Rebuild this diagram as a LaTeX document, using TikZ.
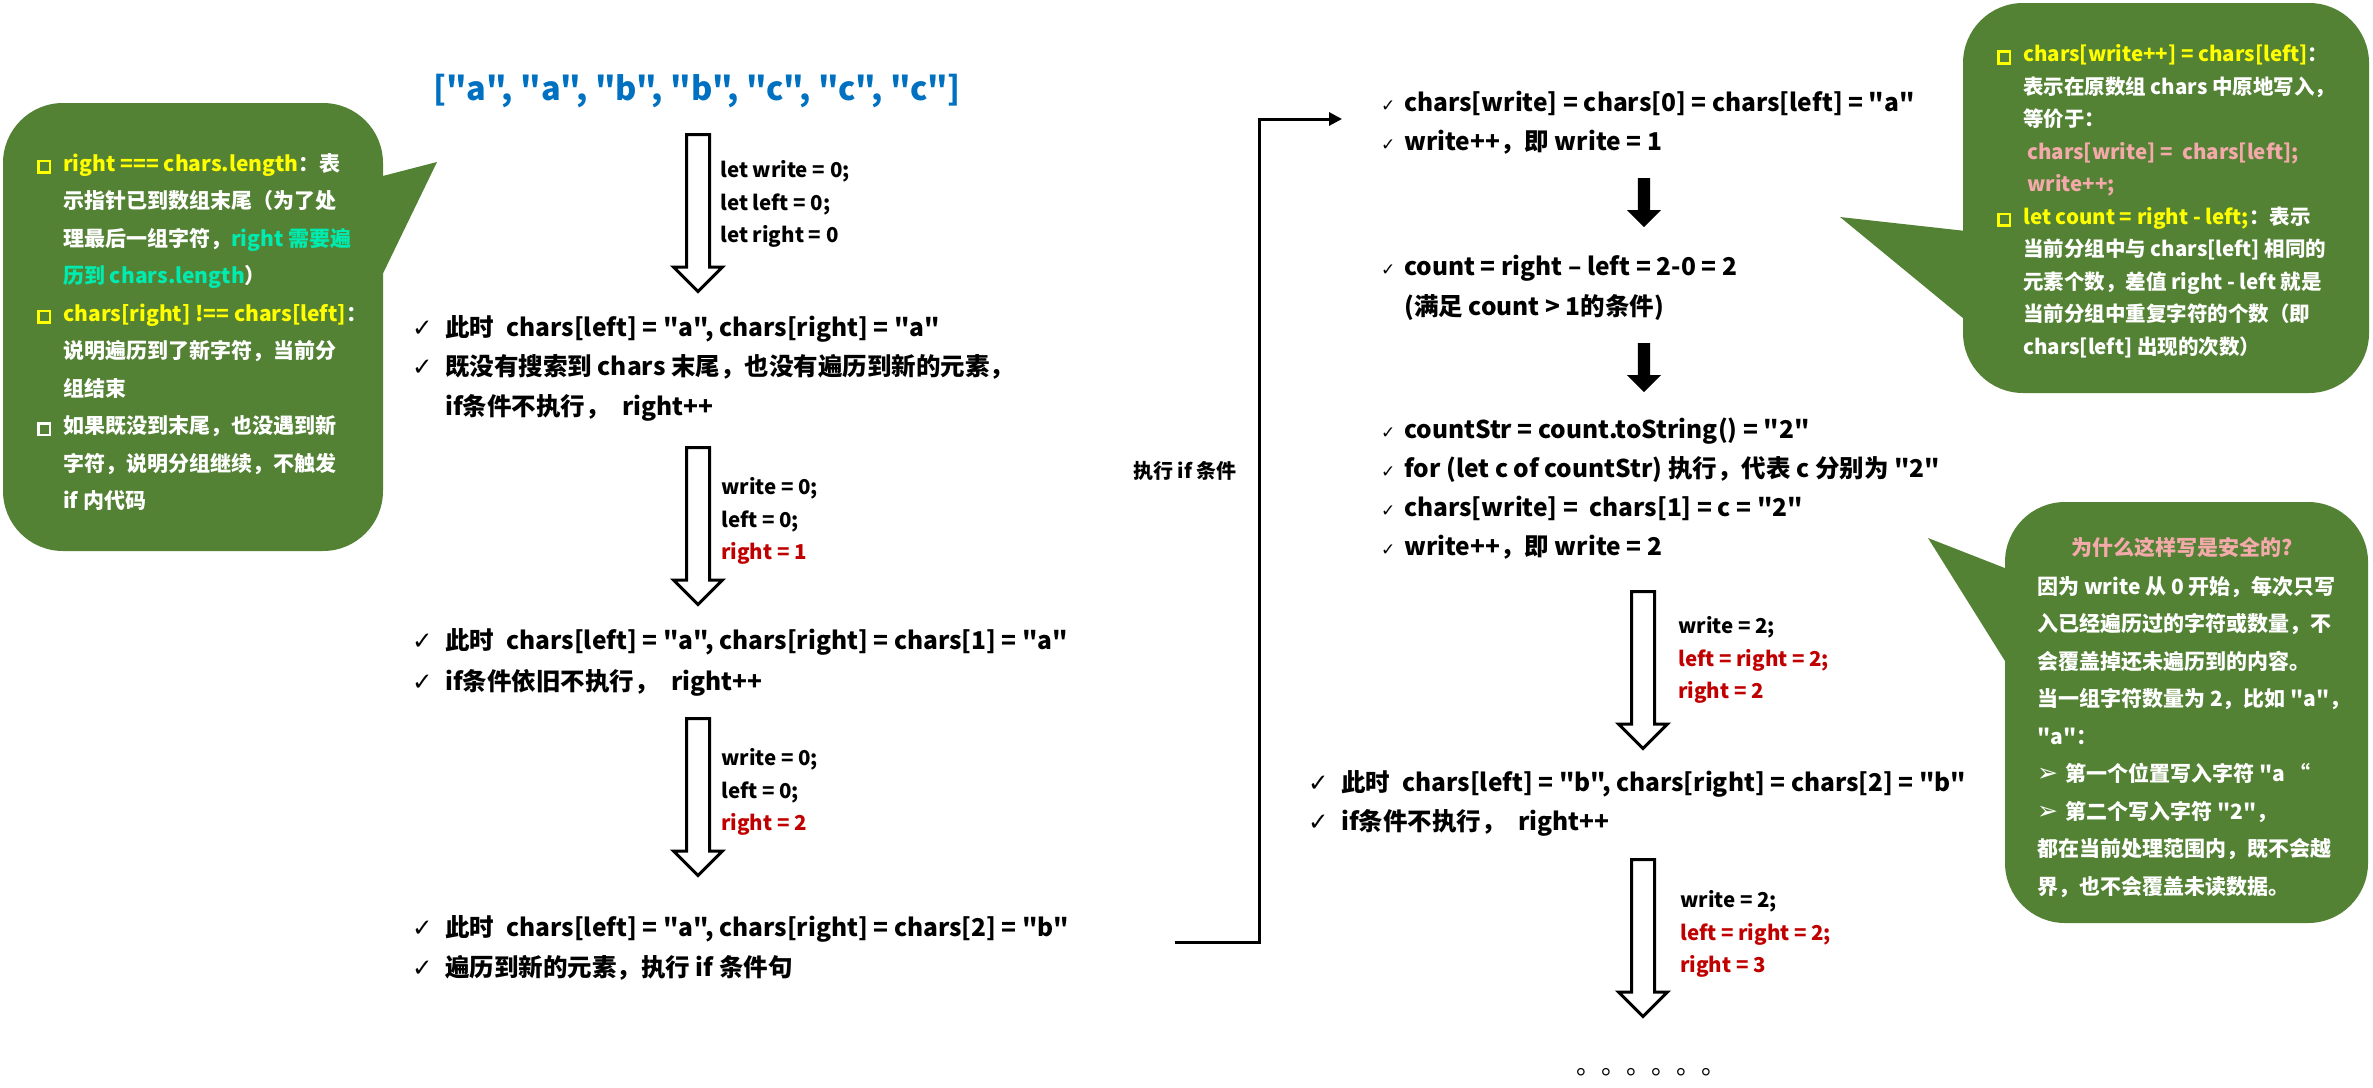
\documentclass[tikz,border=0pt]{standalone}
\usepackage{fontspec}
\setmainfont{Noto Sans CJK SC}[Ligatures=TeXOff]
\newfontfamily\symfont{DejaVu Sans}
\usepackage{xcolor}
\usetikzlibrary{positioning, arrows.meta, shapes.arrows, calc}
\definecolor{notegreen} {RGB}{84, 130, 53}
\definecolor{codeblue}  {RGB}{0, 112, 192}
\definecolor{varred}    {RGB}{192, 0, 0}
\definecolor{notepink}  {RGB}{244, 170, 170}
\definecolor{noteteal}  {RGB}{0, 235, 175}
\definecolor{noteyellow}{RGB}{255, 255, 0}
% check marks and square bullets
\newcommand{\ck}{\makebox[33pt][l]{{\symfont\mdseries ✓}}}
\newcommand{\ckr}{\makebox[23pt][l]{{\symfont\mdseries\fontsize{17}{17}\selectfont ✓}}}
\newcommand{\sqbul}[1]{\makebox[26pt][l]{\textcolor{#1}{\setlength{\fboxsep}{0pt}\setlength{\fboxrule}{2.6pt}\fbox{\rule{0pt}{9pt}\hspace{9pt}}}}}
\newcommand{\arbul}{\makebox[28pt][l]{{\symfont\fontsize{25}{25}\selectfont ➢}}}
\tikzset{
  % step text
  steptxt/.style={anchor=west, align=left, inner sep=0pt,
    font=\fontsize{24.5}{39.5}\selectfont\bfseries},
  % variables beside the hollow arrows
  varlbl/.style={anchor=west, align=left, inner sep=0pt,
    font=\fontsize{20.5}{32.5}\selectfont\bfseries},
  % hollow block arrow
  hollowarrow/.style={single arrow, draw=black, fill=white, line width=3pt,
    rotate=-90, anchor=tail, inner xsep=0pt, inner ysep=10pt,
    minimum height=157pt, minimum width=46pt,
    single arrow head extend=13pt, single arrow head indent=0pt},
  % small filled arrow
  fillarrow/.style={single arrow, fill=black, draw=none,
    rotate=-90, anchor=tail, inner xsep=0pt, inner ysep=6pt,
    minimum height=49pt, minimum width=34pt,
    single arrow head extend=11pt, single arrow head indent=0pt},
  % note bubble
  bubble/.style={fill=notegreen, draw=none, rounded corners=60pt},
  notetxt/.style={anchor=west, align=left, inner sep=0pt, text=white,
    font=\fontsize{21}{37.5}\selectfont\bfseries},
  % connector
  conn/.style={line width=3pt, -{Triangle[length=13pt, width=13pt]}},
}

\begin{document}
\begin{tikzpicture}[x=1pt, y=-1pt]
  \useasboundingbox (0,0) rectangle (2373,1087);

  % notes
  \node[bubble, minimum width=380pt, minimum height=448pt] (lnote) at (193,327) {};
  \fill[notegreen] (375,178) -- (437,162) -- (375,290) -- cycle;
  \node[bubble, minimum width=406pt, minimum height=390pt] (rnote) at (2166,198) {};
  \fill[notegreen] (1975,232) -- (1840,217) -- (1975,328) -- cycle;
  \node[bubble, minimum width=363pt, minimum height=421pt] (snote) at (2186.5,712.5) {};
  \fill[notegreen] (2015,572) -- (1928,538) -- (2015,677) -- cycle;

  \node[notetxt] (ltxt) at (37,332) {%
    \sqbul{noteyellow}\textcolor{noteyellow}{right === chars.length}：表\\
    \hspace*{26pt}示指针已到数组末尾（为了处\\
    \hspace*{26pt}理最后一组字符，\textcolor{noteteal}{right 需要遍}\\
    \hspace*{26pt}\textcolor{noteteal}{历到 chars.length}）\\
    \sqbul{noteyellow}\textcolor{noteyellow}{chars[right] !== chars[left]}：\\
    \hspace*{26pt}说明遍历到了新字符，当前分\\
    \hspace*{26pt}组结束\\
    \sqbul{white}如果既没到末尾，也没遇到新\\
    \hspace*{26pt}字符，说明分组继续，不触发\\
    \hspace*{26pt}if 内代码};
  \node[notetxt, font=\fontsize{20.5}{32.5}\selectfont\bfseries] (rtxt) at (1997,201.5) {%
    \sqbul{noteyellow}\textcolor{noteyellow}{chars[write++] = chars[left]}：\\
    \hspace*{26pt}表示在原数组 chars 中原地写入，\\
    \hspace*{26pt}等价于：\\
    \hspace*{30pt}\textcolor{notepink}{chars[write] = \ chars[left];}\\
    \hspace*{30pt}\textcolor{notepink}{write++;}\\
    \sqbul{noteyellow}\textcolor{noteyellow}{let count = right - left;}：表示\\
    \hspace*{26pt}当前分组中与 chars[left] 相同的\\
    \hspace*{26pt}元素个数，差值 right - left 就是\\
    \hspace*{26pt}当前分组中重复字符的个数（即\\
    \hspace*{26pt}chars[left] 出现的次数）};
  \node[notetxt, anchor=center, text=notepink] (stitle) at (2182,548) {为什么这样写是安全的?};
  \node[notetxt] (stxt) at (2037,737) {%
    因为 write 从 0 开始，每次只写\\
    入已经遍历过的字符或数量，不\\
    会覆盖掉还未遍历到的内容。\\
    当一组字符数量为 2，比如 "a"，\\
    "a"：\\
    \arbul 第一个位置写入字符 "a “\\
    \arbul 第二个写入字符 "2"，\\
    都在当前处理范围内，既不会越\\
    界，也不会覆盖未读数据。};

  % left column
  \node[font=\fontsize{32.5}{32.5}\selectfont\bfseries, text=codeblue] (arr) at (697,91)
    {["a", "a", "b", "b", "c", "c", "c"]};
  \node[hollowarrow] (a1) at (698,133) {};
  \node[varlbl] (l1) at (720,204) {let write = 0;\\let left = 0;\\let right = 0};
  \node[steptxt] (t1) at (412,368) {%
    \ck 此时\enspace chars[left] = "a", chars[right] = "a"\\
    \ck 既没有搜索到 chars 末尾，也没有遍历到新的元素，\\
    \hspace*{33pt}if条件不执行，\enspace right++};
  \node[hollowarrow] (a2) at (698,446) {};
  \node[varlbl] (l2) at (721,521) {write = 0;\\left = 0;\\\textcolor{varred}{right = 1}};
  \node[steptxt, font=\fontsize{24.5}{41}\selectfont\bfseries] (t2) at (412,662) {%
    \ck 此时\enspace chars[left] = "a", chars[right] = chars[1] = "a"\\
    \ck if条件依旧不执行，\enspace right++};
  \node[hollowarrow] (a3) at (698,717) {};
  \node[varlbl] (l3) at (721,792) {write = 0;\\left = 0;\\\textcolor{varred}{right = 2}};
  \node[steptxt] (t3) at (412,948) {%
    \ck 此时\enspace chars[left] = "a", chars[right] = chars[2] = "b"\\
    \ck 遍历到新的元素，执行 if 条件句};

  % jump to the if branch
  \coordinate (c0) at (1175,942);
  \coordinate (c1) at (1259,119);
  \coordinate (c2) at (1342,119);
  \draw[conn] (c0) -| (c1) -- (c2);
  \node[font=\fontsize{20}{20}\selectfont\bfseries] (lif) at (1185,471) {执行 if 条件};

  % right column
  \node[steptxt] (r1) at (1381,122.5) {%
    \ckr chars[write] = chars[0] = chars[left] = "a"\\
    \ckr write++，即 write = 1};
  \node[fillarrow] (b1) at (1644,178) {};
  \node[steptxt] (r2) at (1381,288) {%
    \ckr count = right – left = 2-0 = 2\\
    \hspace*{23pt}(满足 count > 1的条件)};
  \node[fillarrow] (b2) at (1644,343) {};
  \node[steptxt, font=\fontsize{24.5}{39}\selectfont\bfseries] (r3) at (1381,488.5) {%
    \ckr countStr = count.toString() = "2"\\
    \ckr for (let c of countStr) 执行，代表 c 分别为 "2"\\
    \ckr chars[write] = \ chars[1] = c = "2"\\
    \ckr write++，即 write = 2};
  \node[hollowarrow] (a4) at (1643,590) {};
  \node[varlbl] (l4) at (1678,660) {write = 2;\\\textcolor{varred}{left = right = 2;}\\\textcolor{varred}{right = 2}};
  \node[steptxt] (r4) at (1308,803.5) {%
    \ck 此时\enspace chars[left] = "b", chars[right] = chars[2] = "b"\\
    \ck if条件不执行，\enspace right++};
  \node[hollowarrow] (a5) at (1643,858) {};
  \node[varlbl] (l5) at (1680,934) {write = 2;\\\textcolor{varred}{left = right = 2;}\\\textcolor{varred}{right = 3}};
  \node[anchor=base west, inner sep=0pt, font=\fontsize{25}{25}\selectfont] (dots) at (1576,1074) {。。。。。。};
\end{tikzpicture}
\end{document}
